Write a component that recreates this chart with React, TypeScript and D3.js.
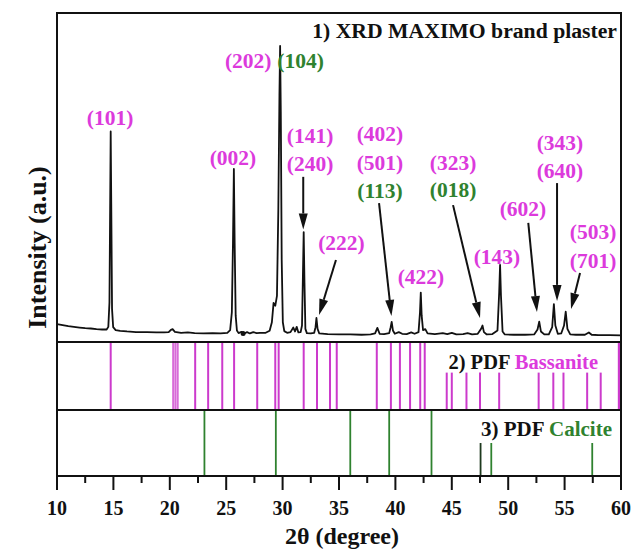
import React from "react";
import * as d3 from "d3";

// ---------- data ----------
const xTicksMajor = [10, 15, 20, 25, 30, 35, 40, 45, 50, 55, 60];
const xTicksMinor = [12.5, 17.5, 22.5, 27.5, 32.5, 37.5, 42.5, 47.5, 52.5, 57.5];

// XRD trace: [2theta, intensity (a.u.)]
const xrdTrace: [number, number][] = [
  [10.0, 5.4], [10.5, 5.1], [11.0, 4.8], [11.5, 4.6], [12.0, 4.4], [12.5, 4.2], [13.0, 4.1], [13.5, 3.9],
  [14.0, 3.8], [14.4, 3.8], [14.55, 4.6], [14.65, 12], [14.72, 45], [14.76, 64], [14.81, 42], [14.88, 10],
  [14.98, 4.5], [15.2, 3.6], [15.6, 3.4], [16.2, 3.2], [17.0, 3.0], [18.0, 3.0], [18.8, 2.9], [19.5, 2.9],
  [19.9, 3.0], [20.1, 3.7], [20.25, 3.9], [20.45, 3.1], [21.0, 2.8], [21.6, 2.9], [22.2, 2.7], [23.0, 2.6],
  [23.8, 2.7], [24.5, 2.6], [25.1, 2.8], [25.35, 3.6], [25.5, 9], [25.6, 30], [25.68, 52.6], [25.75, 30],
  [25.84, 8], [25.95, 3.5], [26.1, 2.7], [26.35, 3.1], [26.6, 2.6], [26.85, 3.0], [27.1, 2.6], [27.4, 3.0],
  [27.7, 2.7], [28.0, 2.8], [28.5, 2.8], [28.85, 3.4], [29.05, 6], [29.2, 11.9], [29.35, 11], [29.5, 14],
  [29.62, 40], [29.72, 75], [29.78, 90], [29.84, 70], [29.92, 25], [30.02, 6], [30.15, 3.3], [30.4, 2.8],
  [30.7, 3.0], [30.95, 4.4], [31.1, 3.2], [31.25, 4.6], [31.4, 2.9], [31.6, 3.0], [31.72, 5], [31.8, 20],
  [31.87, 33.4], [31.94, 18], [32.02, 4], [32.15, 2.7], [32.5, 2.6], [32.8, 2.8], [32.92, 4.5], [33.0, 7.3],
  [33.1, 4.0], [33.25, 2.6], [34.0, 2.4], [35.0, 2.3], [36.0, 2.3], [37.0, 2.2], [37.8, 2.3], [38.2, 2.6],
  [38.4, 4.3], [38.6, 2.5], [39.0, 2.4], [39.45, 2.7], [39.58, 4.5], [39.67, 6.1], [39.78, 3.5], [39.95, 2.5],
  [40.3, 3.0], [40.6, 2.5], [41.0, 2.4], [41.4, 2.9], [41.7, 2.5], [42.05, 3.0], [42.18, 9], [42.25, 15],
  [42.33, 8], [42.45, 3.6], [42.65, 3.9], [42.85, 2.6], [43.5, 2.4], [44.2, 2.7], [44.6, 2.4], [45.0, 2.8],
  [45.4, 2.3], [46.0, 2.4], [46.4, 2.7], [46.8, 2.3], [47.3, 2.5], [47.6, 4.0], [47.72, 5.0], [47.85, 3.0],
  [48.1, 2.3], [48.6, 2.4], [49.05, 3.5], [49.2, 15], [49.28, 23.4], [49.36, 14], [49.5, 3.2], [49.7, 2.3],
  [50.5, 2.2], [51.5, 2.2], [52.3, 2.3], [52.6, 3.8], [52.75, 6.2], [52.9, 3.2], [53.2, 2.3], [53.6, 2.3],
  [53.9, 4.5], [54.05, 11.5], [54.18, 5], [54.4, 2.5], [54.7, 2.6], [54.95, 5], [55.1, 9.2], [55.25, 4],
  [55.5, 2.3], [56.0, 2.2], [56.8, 2.2], [57.15, 2.9], [57.4, 2.2], [58.0, 2.1], [59.0, 2.1], [60.0, 2.0],
];
const xrdDot: [number, number] = [26.5, 2.6];

// PDF Bassanite reference lines: 2theta and relative height (%)
const bassaniteTheta = [14.76, 20.3, 20.5, 20.7, 22.25, 23.4, 24.65, 25.7, 27.75, 29.35, 29.65, 31.87, 33.05, 34.2, 34.8,
  38.35, 39.6, 40.4, 41.3, 42.2, 42.6, 44.55, 45.0, 46.3, 47.5, 49.2, 52.7, 54.0, 54.9, 57.0, 58.2, 59.85];
const bassaniteHeight = [100, 100, 100, 100, 100, 100, 100, 100, 100, 100, 100, 100, 100, 100, 100,
  100, 100, 100, 100, 100, 100, 55, 55, 55, 55, 55, 55, 55, 55, 55, 55, 100];

// PDF Calcite reference lines
const calciteTheta = [23.07, 29.4, 36.0, 39.45, 43.2, 47.55, 48.5, 57.45];
const calciteHeight = [100, 100, 100, 100, 100, 50, 50, 50];

// Peak labels: text, phase, 2theta, intensity (label centre)
const labelText = ["(101)", "(002)", "(202)", "(104)", "(141)", "(240)", "(402)", "(501)", "(113)", "(323)", "(018)",
  "(222)", "(422)", "(143)", "(602)", "(343)", "(640)", "(503)", "(701)"];
const labelPhase = ["B", "B", "B", "C", "B", "B", "B", "B", "C", "B", "C", "B", "B", "B", "B", "B", "B", "B", "B"];
const labelTheta = [14.7, 25.6, 26.95, 31.6, 32.43, 32.43, 38.63, 38.63, 38.63, 45.11, 45.11,
  35.22, 42.27, 49.0, 51.31, 54.59, 54.59, 57.52, 57.52];
const labelInt = [68.1, 56.2, 85.7, 85.7, 62.9, 54.4, 63.5, 54.7, 46.2, 54.7, 46.5,
  30.4, 19.8, 26.1, 40.7, 60.5, 52.0, 33.7, 24.9];

// Arrows: from (theta, intensity) to (theta, intensity)
const arrowFrom: [number, number][] = [[31.83, 50.2], [34.73, 24.9], [38.55, 42.2], [45.11, 41.6], [51.78, 36.2], [54.33, 48.3], [56.37, 21.0]];
const arrowTo: [number, number][] = [[31.83, 34.2], [33.23, 8.2], [39.65, 7.9], [47.5, 7.3], [52.55, 9.1], [54.33, 12.5], [55.57, 10.0]];

// ---------- layout ----------
const W = 643, H = 550;
const L = 57, R = 621, T = 13, B1 = 342, B2 = 410, B3 = 476;
const FONT = "'Liberation Serif', 'Times New Roman', serif";
const MAG = "#dc3adc";
const MAGLINE = "#cc3acc";
const GRN = "#2f822f";

export default function App() {
  const x = d3.scaleLinear().domain([10, 60]).range([L, R]);
  const yX = d3.scaleLinear().domain([0, 100]).range([B1, T]);
  const yB = d3.scaleLinear().domain([0, 100]).range([B2, B1]);
  const yC = d3.scaleLinear().domain([0, 100]).range([B3, B2]);

  const line = d3.line<[number, number]>().x(d => x(d[0])).y(d => yX(d[1])).curve(d3.curveLinear);

  const arrows = arrowFrom.map((f, i) => {
    const t = arrowTo[i];
    const x1 = x(f[0]), y1 = yX(f[1]), x2 = x(t[0]), y2 = yX(t[1]);
    const dx = x2 - x1, dy = y2 - y1, len = Math.hypot(dx, dy);
    const ux = dx / len, uy = dy / len;
    const hl = 16, hw = 4.5;
    const bx = x2 - ux * hl, by = y2 - uy * hl;
    const pts = [[x2, y2], [bx - uy * hw, by + ux * hw], [bx + uy * hw, by - ux * hw]];
    return (
      <g key={i}>
        <line x1={x1} y1={y1} x2={bx} y2={by} stroke="#111" strokeWidth={2} />
        <polygon points={pts.map(p => p.join(",")).join(" ")} fill="#111" />
      </g>
    );
  });

  return (
    <svg width={W} height={H} style={{ position: "absolute", left: 0, top: 0, background: "#fff" }}
      fontFamily={FONT} fontWeight="bold">
      <rect x={0} y={0} width={W} height={H} fill="#fff" />
      {/* Bassanite lines */}
      {bassaniteTheta.map((t, i) => (
        <line key={"b" + i} x1={x(t)} x2={x(t)} y1={B2} y2={yB(bassaniteHeight[i])} stroke={MAGLINE}
          strokeWidth={t > 59 ? 3 : 2} opacity={t >= 20.2 && t <= 20.8 ? 0.75 : 1} />
      ))}
      {/* Calcite lines */}
      {calciteTheta.map((t, i) => (
        <line key={"c" + i} x1={x(t)} x2={x(t)} y1={B3} y2={yC(calciteHeight[i])}
          stroke={i === 5 ? "#1e3a1e" : GRN} strokeWidth={1.8} />
      ))}
      {/* XRD trace */}
      <path d={line(xrdTrace) || ""} fill="none" stroke="#111" strokeWidth={1.8} strokeLinejoin="round" />
      <circle cx={x(xrdDot[0])} cy={yX(xrdDot[1])} r={2.5} fill="#111" />
      {/* labels */}
      {labelText.map((s, i) => (
        <text key={"l" + i} x={x(labelTheta[i])} y={yX(labelInt[i])} dy="0.35em" textAnchor="middle"
          fontSize={21.5} fill={labelPhase[i] === "C" ? GRN : MAG}>{s}</text>
      ))}
      {arrows}
      {/* frame + separators */}
      <rect x={L} y={T} width={R - L} height={B3 - T} fill="none" stroke="#111" strokeWidth={2} />
      <line x1={L} x2={R} y1={B1} y2={B1} stroke="#111" strokeWidth={2} />
      <line x1={L} x2={R} y1={B2} y2={B2} stroke="#111" strokeWidth={2} />
      {/* panel titles */}
      <text x={617} y={38} textAnchor="end" fontSize={21.7} fill="#111">1) XRD MAXIMO brand plaster</text>
      <text x={598} y={369} textAnchor="end" fontSize={20.5} fill="#111">2) PDF <tspan fill={MAG}>Bassanite</tspan></text>
      <text x={612} y={436} textAnchor="end" fontSize={21} fill="#111">3) PDF <tspan fill={GRN}>Calcite</tspan></text>
      {/* x axis ticks */}
      {xTicksMajor.map(t => (
        <g key={"t" + t}>
          <line x1={x(t)} x2={x(t)} y1={B3} y2={B3 + 14} stroke="#111" strokeWidth={2} />
          <text x={x(t)} y={515} textAnchor="middle" fontSize={20} fill="#111">{t}</text>
        </g>
      ))}
      {xTicksMinor.map(t => (
        <line key={"m" + t} x1={x(t)} x2={x(t)} y1={B3} y2={B3 + 7} stroke="#111" strokeWidth={2} />
      ))}
      <text x={(L + R) / 2 + 3} y={544} textAnchor="middle" fontSize={24} fill="#111">2θ (degree)</text>
      <text transform={`translate(37, ${(T + B3) / 2 + 3}) rotate(-90)`} textAnchor="middle" dy="0.35em"
        fontSize={26} fill="#111">Intensity (a.u.)</text>
    </svg>
  );
}
